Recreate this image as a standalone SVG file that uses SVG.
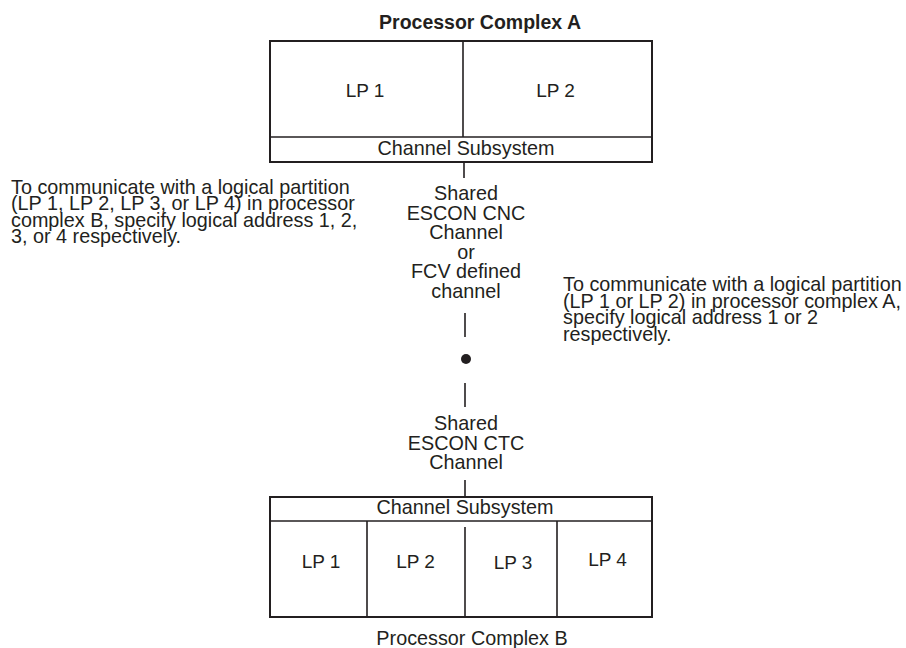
<svg xmlns="http://www.w3.org/2000/svg" width="906" height="648" viewBox="0 0 906 648">
<style>
text{font-family:"Liberation Sans",Arial,sans-serif;fill:#231f20;font-size:19.8px}
.c{text-anchor:middle}
.b{font-weight:bold;font-size:19.5px}
.lp{font-size:19px}
.box{fill:#fff;stroke:#231f20;stroke-width:2}
.ln{stroke:#231f20;stroke-width:1.6;fill:none}
</style>
<rect width="906" height="648" fill="#fff"/>
<g id="complexA">
<text class="c b" x="480" y="29">Processor Complex A</text>
<rect class="box" x="270" y="41" width="382" height="121"/>
<line class="ln" x1="463" y1="41" x2="463" y2="137"/>
<line class="ln" x1="270" y1="137" x2="652" y2="137"/>
<text class="c lp" x="365" y="97">LP 1</text>
<text class="c lp" x="555.5" y="97">LP 2</text>
<text class="c" x="466" y="155">Channel Subsystem</text>
</g>
<g id="complexB">
<rect class="box" x="270" y="497" width="382" height="120"/>
<line class="ln" x1="270" y1="521" x2="652" y2="521"/>
<line class="ln" x1="367" y1="521" x2="367" y2="617"/>
<line class="ln" x1="465" y1="527" x2="465" y2="617"/>
<line class="ln" x1="557" y1="521" x2="557" y2="617"/>
<text class="c" x="465" y="514">Channel Subsystem</text>
<text class="c lp" x="321" y="568">LP 1</text>
<text class="c lp" x="415.5" y="568">LP 2</text>
<text class="c lp" x="513" y="569">LP 3</text>
<text class="c lp" x="607.5" y="566">LP 4</text>
<text class="c" x="472" y="645">Processor Complex B</text>
</g>
<g id="cnc">
<text class="c" x="466" y="200">Shared</text>
<text class="c" x="466" y="219.5">ESCON CNC</text>
<text class="c" x="466" y="239">Channel</text>
<text class="c" x="466" y="258.5">or</text>
<text class="c" x="466" y="278">FCV defined</text>
<text class="c" x="466" y="297.5">channel</text>
</g>
<g id="switch">
<circle cx="466" cy="359" r="5" fill="#231f20"/>
</g>
<g id="ctc">
<text class="c" x="466" y="430">Shared</text>
<text class="c" x="466" y="450">ESCON CTC</text>
<text class="c" x="466" y="469">Channel</text>
</g>
<g id="noteB">
<text x="11" y="193.5">To communicate with a logical partition</text>
<text x="11" y="210">(LP 1, LP 2, LP 3, or LP 4) in processor</text>
<text x="11" y="226.5">complex B, specify logical address 1, 2,</text>
<text x="11" y="243">3, or 4 respectively.</text>
</g>
<g id="noteA">
<text x="563" y="291">To communicate with a logical partition</text>
<text x="563" y="307.5">(LP 1 or LP 2) in processor complex A,</text>
<text x="563" y="324">specify logical address 1 or 2</text>
<text x="563" y="340.5">respectively.</text>
</g>
<g id="connectors">
<line class="ln" x1="464" y1="162" x2="464" y2="178"/>
<line class="ln" x1="465" y1="313" x2="465" y2="337"/>
<line class="ln" x1="465" y1="383" x2="465" y2="407"/>
<line class="ln" x1="465" y1="480" x2="465" y2="497"/>
</g>
</svg>
